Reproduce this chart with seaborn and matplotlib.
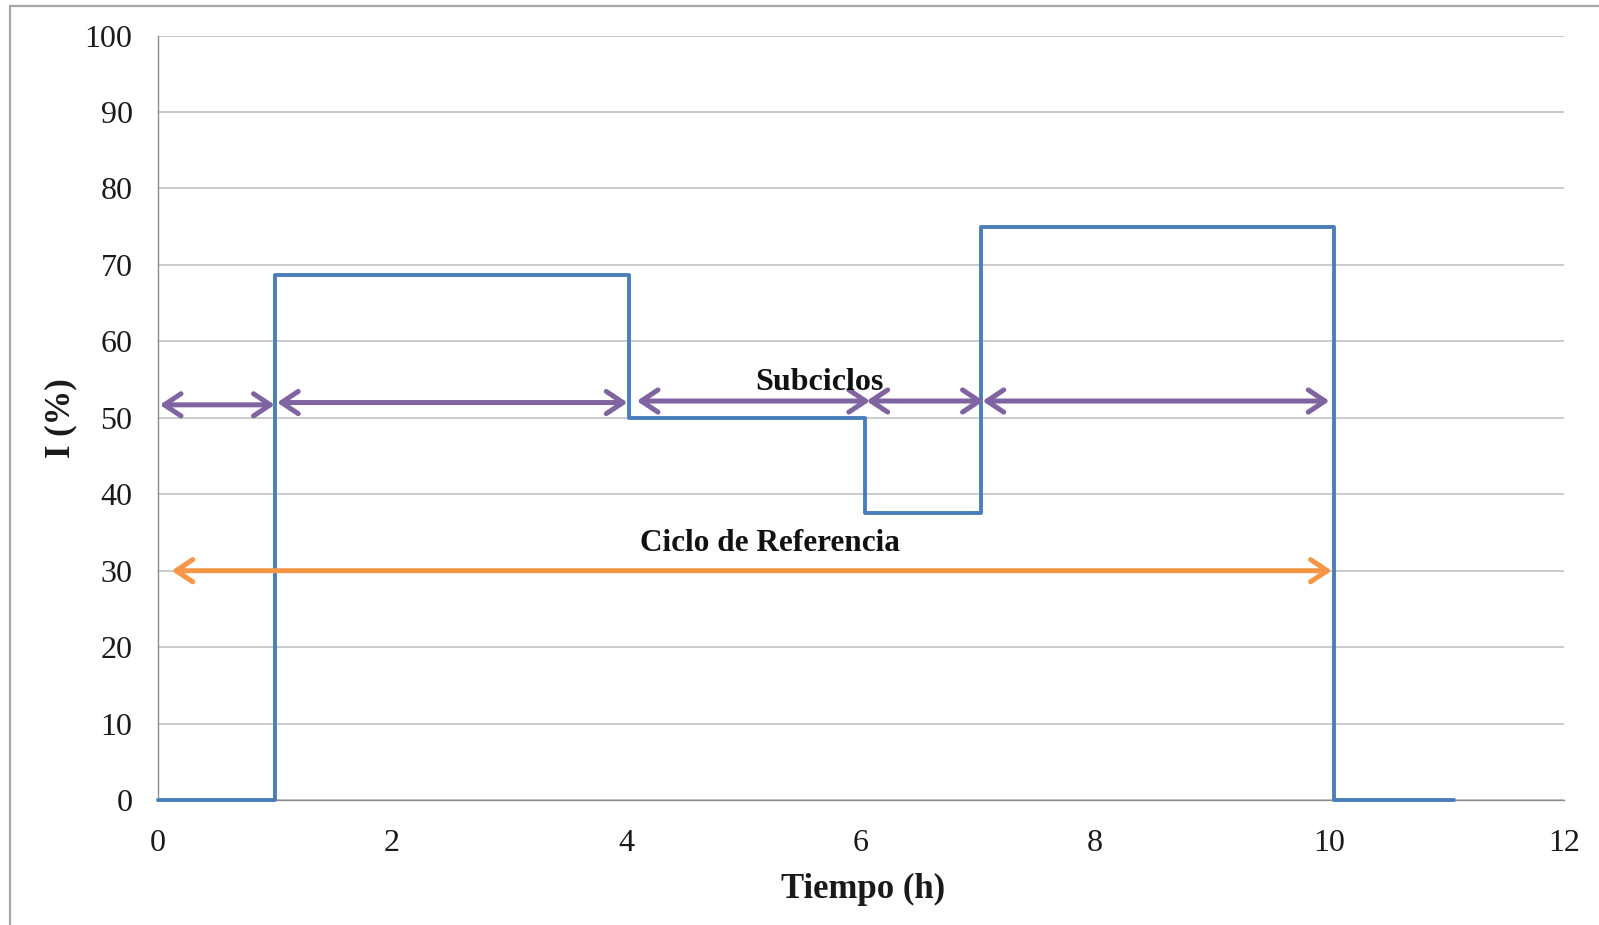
import matplotlib
matplotlib.use("Agg")
import matplotlib.pyplot as plt
from matplotlib.patches import FancyArrowPatch
from matplotlib.lines import Line2D
import seaborn as sns
import pandas as pd

# Load profile: step edges (hours) and current level held from each edge (%)
tiempo_h = [0.0, 1.0, 4.02, 6.04, 7.03, 10.04, 11.06]
corriente_pct = [0.0, 68.7, 50.0, 37.5, 75.0, 0.0, 0.0]

# Sub-cycle spans (start, end, height) and the full reference cycle span
subciclos_inicio = [0.02, 1.02, 4.09, 6.05, 7.04]
subciclos_fin = [1.00, 4.01, 6.08, 7.05, 10.00]
subciclos_y = [51.7, 52.0, 52.2, 52.2, 52.2]
ciclo_ref = (0.12, 10.02, 30.0)

x_ticks = [0, 2, 4, 6, 8, 10, 12]
y_ticks = [0, 10, 20, 30, 40, 50, 60, 70, 80, 90, 100]

sns.set_theme(style="white")
plt.rcParams["font.family"] = ["Liberation Serif", "DejaVu Serif"]

fig = plt.figure(figsize=(15.99, 9.25), dpi=100)
ax = fig.add_axes([0.0985, 0.1351, 0.8795, 0.8264])

df = pd.DataFrame({"Tiempo (h)": tiempo_h, "I (%)": corriente_pct})
sns.lineplot(data=df, x="Tiempo (h)", y="I (%)", ax=ax, drawstyle="steps-post",
             color="#4a7ebb", linewidth=2.8, solid_joinstyle="round",
             clip_on=False, zorder=6)

ax.set_xlim(0, 12)
ax.set_ylim(0, 100)
ax.set_xticks(x_ticks)
ax.set_yticks(y_ticks)
ax.set_xticklabels([str(v) for v in x_ticks])
ax.set_yticklabels([str(v) for v in y_ticks])

ax.grid(axis="y", color="#bdbdbd", linewidth=1.1)
ax.grid(axis="x", visible=False)
for s in ("top", "right"):
    ax.spines[s].set_visible(False)
for s in ("left", "bottom"):
    ax.spines[s].set_color("#8c8c8c")
    ax.spines[s].set_linewidth(1.0)

ax.tick_params(axis="both", which="major", direction="out", length=7, width=1.0,
               color="#8c8c8c", labelsize=23, labelcolor="#1a1a1a")
ax.tick_params(axis="y", pad=11)
ax.tick_params(axis="x", pad=14)

ax.set_xlabel("Tiempo (h)", fontsize=25, fontweight="bold", color="#1a1a1a")
ax.set_ylabel("I (%)", fontsize=25, fontweight="bold", color="#1a1a1a")
ax.xaxis.label.set_va("center")
ax.yaxis.label.set_va("center")
ax.xaxis.set_label_coords(0.5015, -0.117)
ax.yaxis.set_label_coords(-0.0685, 0.5)

arrow_style = "<->,head_length=0.6,head_width=0.4"

# Sub-cycle double arrows
for x0, x1, yy in zip(subciclos_inicio, subciclos_fin, subciclos_y):
    arr = FancyArrowPatch((x0, yy), (x1, yy), arrowstyle=arrow_style,
                          mutation_scale=20, color="#8064a2", linewidth=3.6,
                          shrinkA=0, shrinkB=0, capstyle="round",
                          joinstyle="round", zorder=7)
    ax.add_patch(arr)

# Reference cycle arrow
arr = FancyArrowPatch((ciclo_ref[0], ciclo_ref[2]), (ciclo_ref[1], ciclo_ref[2]),
                      arrowstyle=arrow_style, mutation_scale=20, color="#f79646",
                      linewidth=3.6, shrinkA=0, shrinkB=0, capstyle="round",
                      joinstyle="round", zorder=7)
ax.add_patch(arr)

ax.text(5.65, 54.6, "Subciclos", fontsize=23, fontweight="bold",
        ha="center", va="center", color="#111111", zorder=8)
ax.text(5.23, 33.5, "Ciclo de Referencia", fontsize=22.5, fontweight="bold",
        ha="center", va="center", color="#111111", zorder=8)

# Outer frame of the chart area
W, H = 1599, 925
fig.add_artist(Line2D([9.5 / W, 1.0], [1 - 5.5 / H, 1 - 5.5 / H],
                      transform=fig.transFigure, color="#a6a6a6", linewidth=1.6))
fig.add_artist(Line2D([9.5 / W, 9.5 / W], [0.0, 1 - 5.5 / H],
                      transform=fig.transFigure, color="#a6a6a6", linewidth=1.6))

fig.savefig("out.png", dpi=100, facecolor="white")
